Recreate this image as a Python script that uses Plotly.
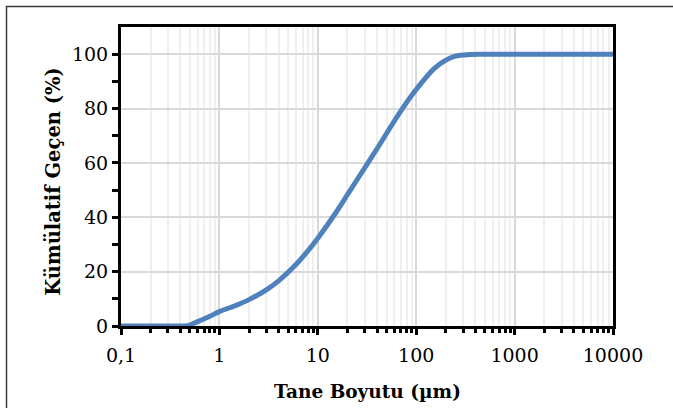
import plotly.graph_objects as go

# Cumulative passing particle size distribution
size_um = [0.1, 0.3, 0.45, 0.5, 0.6, 0.8, 1.0, 1.5, 2, 3, 4, 6, 8, 10, 15, 20, 30, 40,
           55, 75, 100, 150, 200, 250, 350, 450, 1000, 10000]
passing_pct = [0, 0, 0, 0.3, 1.6, 3.6, 5.3, 7.7, 9.7, 13.3, 16.6, 22.6, 27.8, 32.3, 41.3,
               48.3, 58.2, 65.2, 73.3, 80.8, 87.0, 94.5, 97.8, 99.3, 99.9, 100, 100, 100]

x_tick_vals = [0.1, 1, 10, 100, 1000, 10000]
x_tick_text = ["0,1", "1", "10", "100", "1000", "10000"]
x_minor_vals = [m * d for d in [0.1, 1, 10, 100, 1000] for m in range(2, 10)]
y_tick_vals = [0, 20, 40, 60, 80, 100]
y_minor_vals = [10, 30, 50, 70, 90]

x_title = "Tane Boyutu (µm)"
y_title = "Kümülatif Geçen (%)"

FONT = "DejaVu Serif"

fig = go.Figure()
fig.add_trace(go.Scatter(
    x=size_um, y=passing_pct, mode="lines",
    line=dict(color="#4f81bd", width=5, shape="spline", smoothing=0.7),
    showlegend=False, hoverinfo="skip",
))

fig.update_xaxes(
    type="log", range=[-1, 4],
    tickmode="array", tickvals=x_tick_vals, ticktext=x_tick_text,
    ticks="outside", ticklen=6, tickwidth=2.5, tickcolor="black",
    ticklabelstandoff=4,
    showline=True, linecolor="black", linewidth=3, mirror=True,
    showgrid=True, gridcolor="#d9d9d9", gridwidth=1.5,
    minor=dict(tickmode="array", tickvals=x_minor_vals, ticks="outside",
               ticklen=4, tickwidth=2.5, tickcolor="black",
               showgrid=True, gridcolor="#efefef", gridwidth=1.5),
    tickfont=dict(family=FONT, size=19, color="black"),
    zeroline=False,
)
fig.update_yaxes(
    range=[0, 110],
    tickmode="array", tickvals=y_tick_vals,
    ticks="outside", ticklen=6, tickwidth=3, tickcolor="black",
    showline=True, linecolor="black", linewidth=3, mirror=True,
    showgrid=True, gridcolor="#d9d9d9", gridwidth=1.5,
    minor=dict(tickmode="array", tickvals=y_minor_vals, ticks="outside",
               ticklen=6, tickwidth=3, tickcolor="black", showgrid=False),
    tickfont=dict(family=FONT, size=19, color="black"),
    zeroline=False,
)

fig.add_annotation(text=f"<b>{x_title}</b>", xref="paper", yref="paper",
                   x=0.5, y=-0.22, showarrow=False, yanchor="middle",
                   font=dict(family=FONT, size=18.5, color="black"))
fig.add_annotation(text=f"<b>{y_title}</b>", xref="paper", yref="paper",
                   x=-0.138, y=0.483, showarrow=False, textangle=-90,
                   xanchor="center", yanchor="middle",
                   font=dict(family=FONT, size=19.5, color="black"))

# Outer frame around the whole chart
fig.add_shape(type="rect", xref="paper", yref="paper",
              x0=-0.2327, y0=-0.4, x1=1.3, y1=1.0686,
              line=dict(color="#3a3a3a", width=1.5), layer="below")

fig.update_layout(
    width=673, height=408,
    margin=dict(l=121, r=60, t=27, b=82),
    paper_bgcolor="white", plot_bgcolor="white",
)

fig.write_html("out.html")
